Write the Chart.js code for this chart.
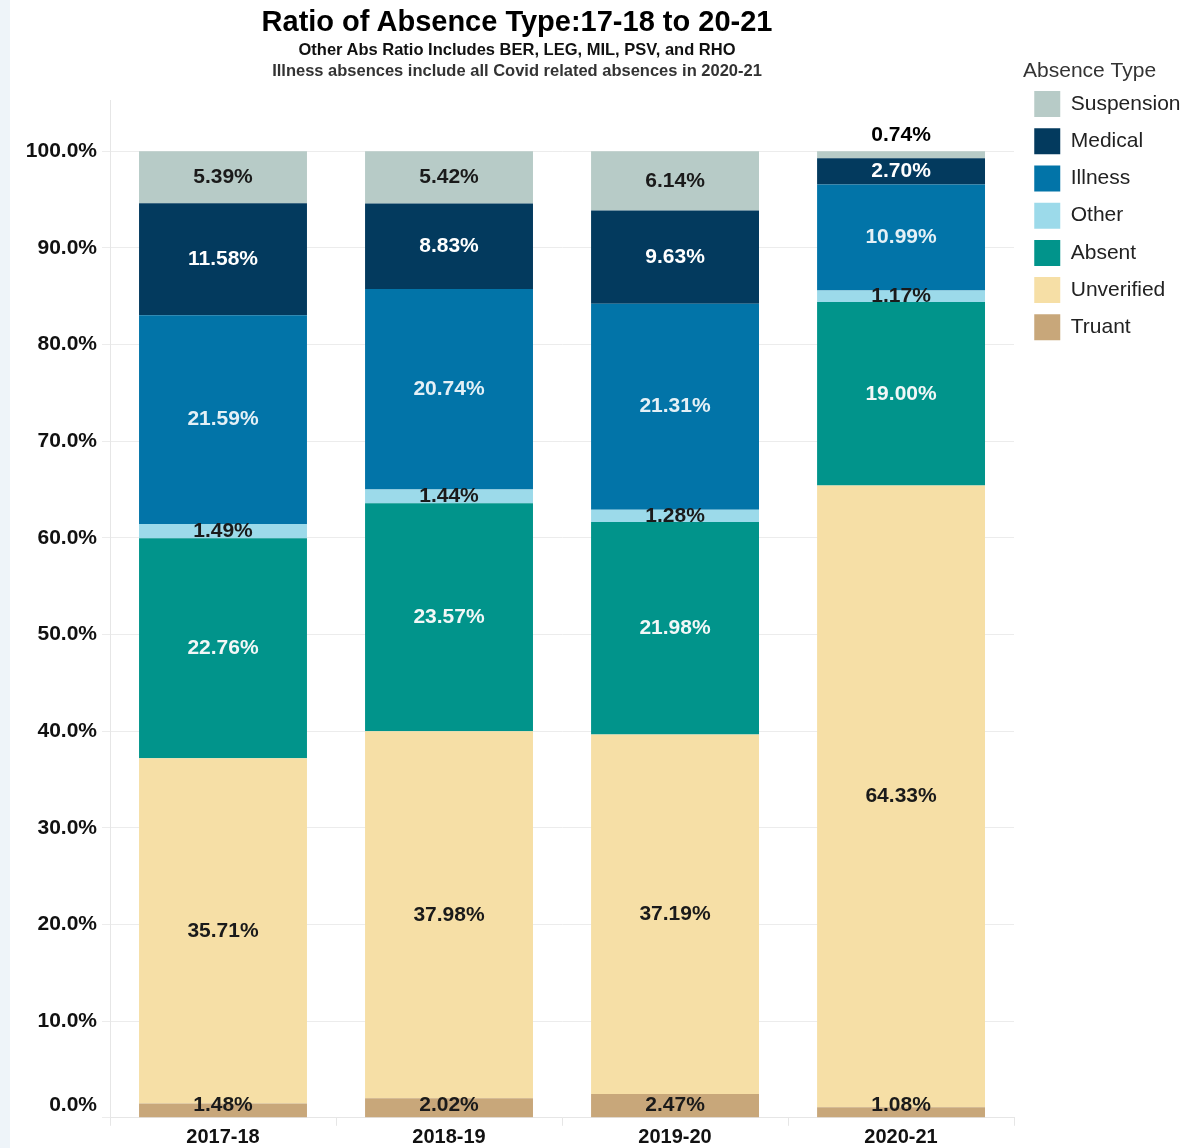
<!DOCTYPE html>
<html>
<head>
<meta charset="utf-8">
<title>Ratio of Absence Type</title>
<script src="https://cdn.jsdelivr.net/npm/chart.js"></script>
<style>
  body { margin: 0; background: #fff; font-family: "Liberation Sans", Arial, sans-serif; }
  #wrap { position: relative; width: 1201px; height: 1148px; overflow: hidden; }
  #strip { position: absolute; left: 0; top: 0; width: 10px; height: 1148px; background: #eef4f9; }
  .ttl { position: absolute; left: 0; width: 1034px; text-align: center; white-space: nowrap; }
  #t1 { top: 4px; font-size: 29px; line-height: 34px; font-weight: bold; color: #000; }
  #t2 { top: 39px; font-size: 16.5px; line-height: 20px; font-weight: bold; color: #111; }
  #t3 { top: 60px; font-size: 16.5px; line-height: 20px; font-weight: bold; color: #333; }
  canvas { position: absolute; left: 0; top: 0; }
</style>
</head>
<body>
<div id="wrap">
  <div id="strip"></div>
  <canvas id="chartBar" width="1201" height="1148"></canvas>
  <div class="ttl" id="t1">Ratio of Absence Type:17-18 to 20-21</div>
  <div class="ttl" id="t2">Other Abs Ratio Includes BER, LEG, MIL, PSV, and RHO</div>
  <div class="ttl" id="t3">Illness absences include all Covid related absences in 2020-21</div>
</div>
<script>
// школьные годы и доли пропусков (%)
var years = ['2017-18', '2018-19', '2019-20', '2020-21'];
var truant     = [1.48, 2.02, 2.47, 1.08];
var unverified = [35.71, 37.98, 37.19, 64.33];
var absent     = [22.76, 23.57, 21.98, 19.00];
var other      = [1.49, 1.44, 1.28, 1.17];
var illness    = [21.59, 20.74, 21.31, 10.99];
var medical    = [11.58, 8.83, 9.63, 2.70];
var suspension = [5.39, 5.42, 6.14, 0.74];
var yTicks = [0, 10, 20, 30, 40, 50, 60, 70, 80, 90, 100];

var font = '"Liberation Sans", Arial, sans-serif';

// подписи внутри сегментов
var segLabels = {
    id: 'segLabels',
    afterDatasetsDraw: function(chart) {
        var ctx = chart.ctx;
        var bottom = chart.chartArea.bottom;
        ctx.save();
        ctx.font = 'bold 21px ' + font;
        ctx.textAlign = 'center';
        ctx.textBaseline = 'middle';
        chart.data.datasets.forEach(function(ds, i) {
            chart.getDatasetMeta(i).data.forEach(function(bar, j) {
                var y = (bar.y + bar.base) / 2;
                var color = ds.labelColor;
                if (Math.abs(bar.base - bar.y) < 8) {   // слишком тонкий - над столбцом
                    y = bar.y - 16;
                    color = '#000';
                }
                y = Math.min(y, bottom - 13);
                ctx.fillStyle = color;
                ctx.fillText(ds.data[j].toFixed(2) + '%', bar.x, y);
            });
        });
        ctx.restore();
    }
};

// сдвигаем легенду как в оригинале
var moveLegend = {
    id: 'moveLegend',
    afterLayout: function(chart) {
        var lg = chart.legend;
        lg.left += 9; lg.right += 9;
        lg.top -= 39; lg.bottom -= 39;
    }
};

var ourBar = document.getElementById('chartBar');

var barChart = new Chart(ourBar, {
    type: 'bar',
    data: {
        labels: years,
        datasets: [
            { label: 'Truant', data: truant, backgroundColor: '#c8a77a', labelColor: '#1a1a1a' },
            { label: 'Unverified', data: unverified, backgroundColor: '#f6dfa6', labelColor: '#1a1a1a' },
            { label: 'Absent', data: absent, backgroundColor: '#01948b', labelColor: '#f2f7f7' },
            { label: 'Other', data: other, backgroundColor: '#9cdaea', labelColor: '#1a1a1a' },
            { label: 'Illness', data: illness, backgroundColor: '#0274a8', labelColor: '#e4f0f6' },
            { label: 'Medical', data: medical, backgroundColor: '#033a5e', labelColor: '#ffffff' },
            { label: 'Suspension', data: suspension, backgroundColor: '#b7cbc7', labelColor: '#1a1a1a' }
        ]
    },
    options: {
        responsive: false,
        animation: false,
        layout: { padding: { top: 100, right: 19.5, bottom: 0, left: 0 } },
        datasets: { bar: { categoryPercentage: 1, barPercentage: 0.743, borderWidth: 0 } },
        plugins: {
            tooltip: { enabled: false },
            legend: {
                position: 'right',
                align: 'start',
                reverse: true,
                title: {
                    display: true,
                    text: 'Absence Type',
                    position: 'start',
                    color: '#333',
                    font: { family: font, size: 21, lineHeight: 0.9 }
                },
                labels: {
                    boxWidth: 26,
                    boxHeight: 26,
                    padding: 11.2,
                    color: '#222',
                    font: { family: font, size: 21 }
                }
            }
        },
        scales: {
            x: {
                stacked: true,
                grid: { offset: true, drawOnChartArea: false, drawTicks: true, tickLength: 8, color: '#e6e6e6' },
                border: { color: '#e6e6e6' },
                ticks: { padding: 0, color: '#111', font: { family: font, size: 20, weight: 'bold' } },
                afterFit: function(scale) { scale.height = 30; }
            },
            y: {
                stacked: true,
                min: 0,
                max: 105.3,
                afterBuildTicks: function(scale) {
                    scale.ticks = yTicks.map(function(v) { return { value: v }; });
                },
                afterFit: function(scale) { scale.width = 110; },
                grid: { color: '#ececec', tickLength: 8 },
                border: { color: '#e6e6e6' },
                ticks: {
                    padding: 5,
                    color: '#111',
                    font: { family: font, size: 21, weight: 'bold' },
                    callback: function(v) {
                        // нижнюю подпись поднимаем над осью
                        return v === 0 ? ['0.0%', ''] : v.toFixed(1) + '%';
                    }
                }
            }
        }
    },
    plugins: [segLabels, moveLegend]
});
</script>
</body>
</html>
